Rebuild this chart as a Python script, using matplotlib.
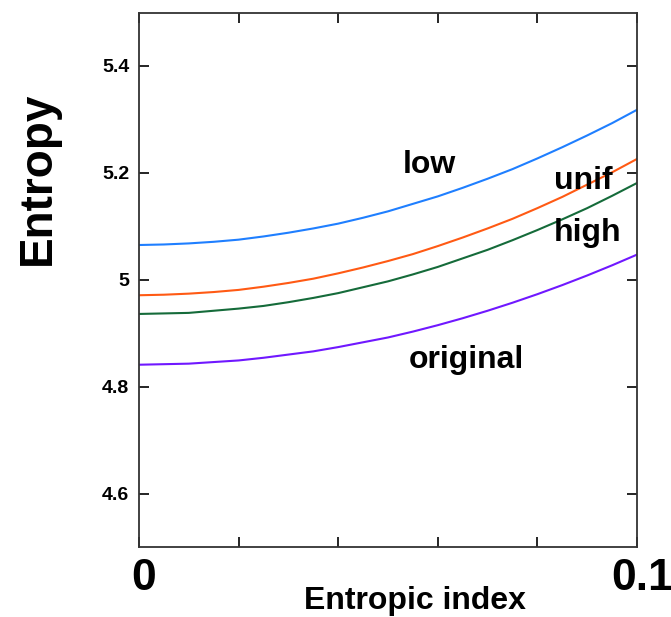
import numpy as np
import matplotlib
matplotlib.use("Agg")
import matplotlib.pyplot as plt
import matplotlib.transforms as mtransforms

plt.rcParams['font.family'] = ['Liberation Sans', 'DejaVu Sans']

# entropic index values
q = [0.0, 0.005, 0.01, 0.015, 0.02, 0.025, 0.03, 0.035, 0.04, 0.045, 0.05,
     0.055, 0.06, 0.065, 0.07, 0.075, 0.08, 0.085, 0.09, 0.095, 0.1]

# entropy curves
low = [5.065, 5.066, 5.068, 5.071, 5.075, 5.081, 5.088, 5.096, 5.105, 5.116, 5.128,
       5.142, 5.156, 5.172, 5.189, 5.207, 5.227, 5.248, 5.270, 5.293, 5.318]
unif = [4.971, 4.972, 4.974, 4.977, 4.981, 4.987, 4.994, 5.002, 5.012, 5.023, 5.035,
        5.048, 5.063, 5.079, 5.096, 5.114, 5.134, 5.155, 5.178, 5.201, 5.226]
high = [4.936, 4.937, 4.938, 4.942, 4.946, 4.951, 4.958, 4.966, 4.975, 4.986, 4.997,
        5.010, 5.024, 5.040, 5.056, 5.074, 5.093, 5.113, 5.134, 5.157, 5.181]
original = [4.841, 4.842, 4.843, 4.846, 4.849, 4.854, 4.860, 4.866, 4.874, 4.883, 4.892,
            4.903, 4.915, 4.928, 4.942, 4.957, 4.973, 4.990, 5.008, 5.027, 5.047]

xticks = [0, 0.02, 0.04, 0.06, 0.08, 0.1]
xticklabels = ["0", "", "", "", "", "0.1"]
yticks = [4.6, 4.8, 5.0, 5.2, 5.4]
yticklabels = ["4.6", "4.8", "5", "5.2", "5.4"]

fig = plt.figure(figsize=(6.71, 6.17), dpi=100)
ax = fig.add_axes([0.2072, 0.1135, 0.7421, 0.8662])

ax.plot(q, low, color="#1f7fff", lw=1.5)
ax.plot(q, unif, color="#ff5a14", lw=1.5)
ax.plot(q, high, color="#156b3a", lw=1.5)
ax.plot(q, original, color="#7018ff", lw=1.5)

# curve names
lab = dict(fontsize=23, fontweight="bold", ha="center", va="center")
ax.text(0.0584, 5.215, "low", **lab)
ax.text(0.0892, 5.184, "unif", **lab)
ax.text(0.0900, 5.087, "high", **lab)
ax.text(0.0657, 4.850, "original", **lab)

ax.set_xlim(0, 0.1)
ax.set_ylim(4.5, 5.5)

ax.set_xticks(xticks)
ax.set_xticklabels(xticklabels, fontsize=32, fontweight="bold")
ax.set_yticks(yticks)
ax.set_yticklabels(yticklabels, fontsize=14, fontweight="bold")
ax.tick_params(direction="in", length=7, width=1.2, top=True, right=True)
ax.tick_params(axis="x", pad=8)
ax.tick_params(axis="y", pad=7)

# the big x labels sit a little to the right of their ticks
shift = mtransforms.ScaledTranslation(5 / 100, 0, fig.dpi_scale_trans)
for t in ax.get_xticklabels():
    t.set_transform(t.get_transform() + shift)

for s in ax.spines.values():
    s.set_linewidth(1.3)
    s.set_color("#333333")

ax.set_xlabel("Entropic index", fontsize=23, fontweight="bold")
ax.xaxis.set_label_coords(0.555, -0.073)
ax.set_ylabel("Entropy", fontsize=33, fontweight="bold")
ax.yaxis.set_label_coords(-0.158, 0.69)

fig.savefig("out.png", dpi=100)
